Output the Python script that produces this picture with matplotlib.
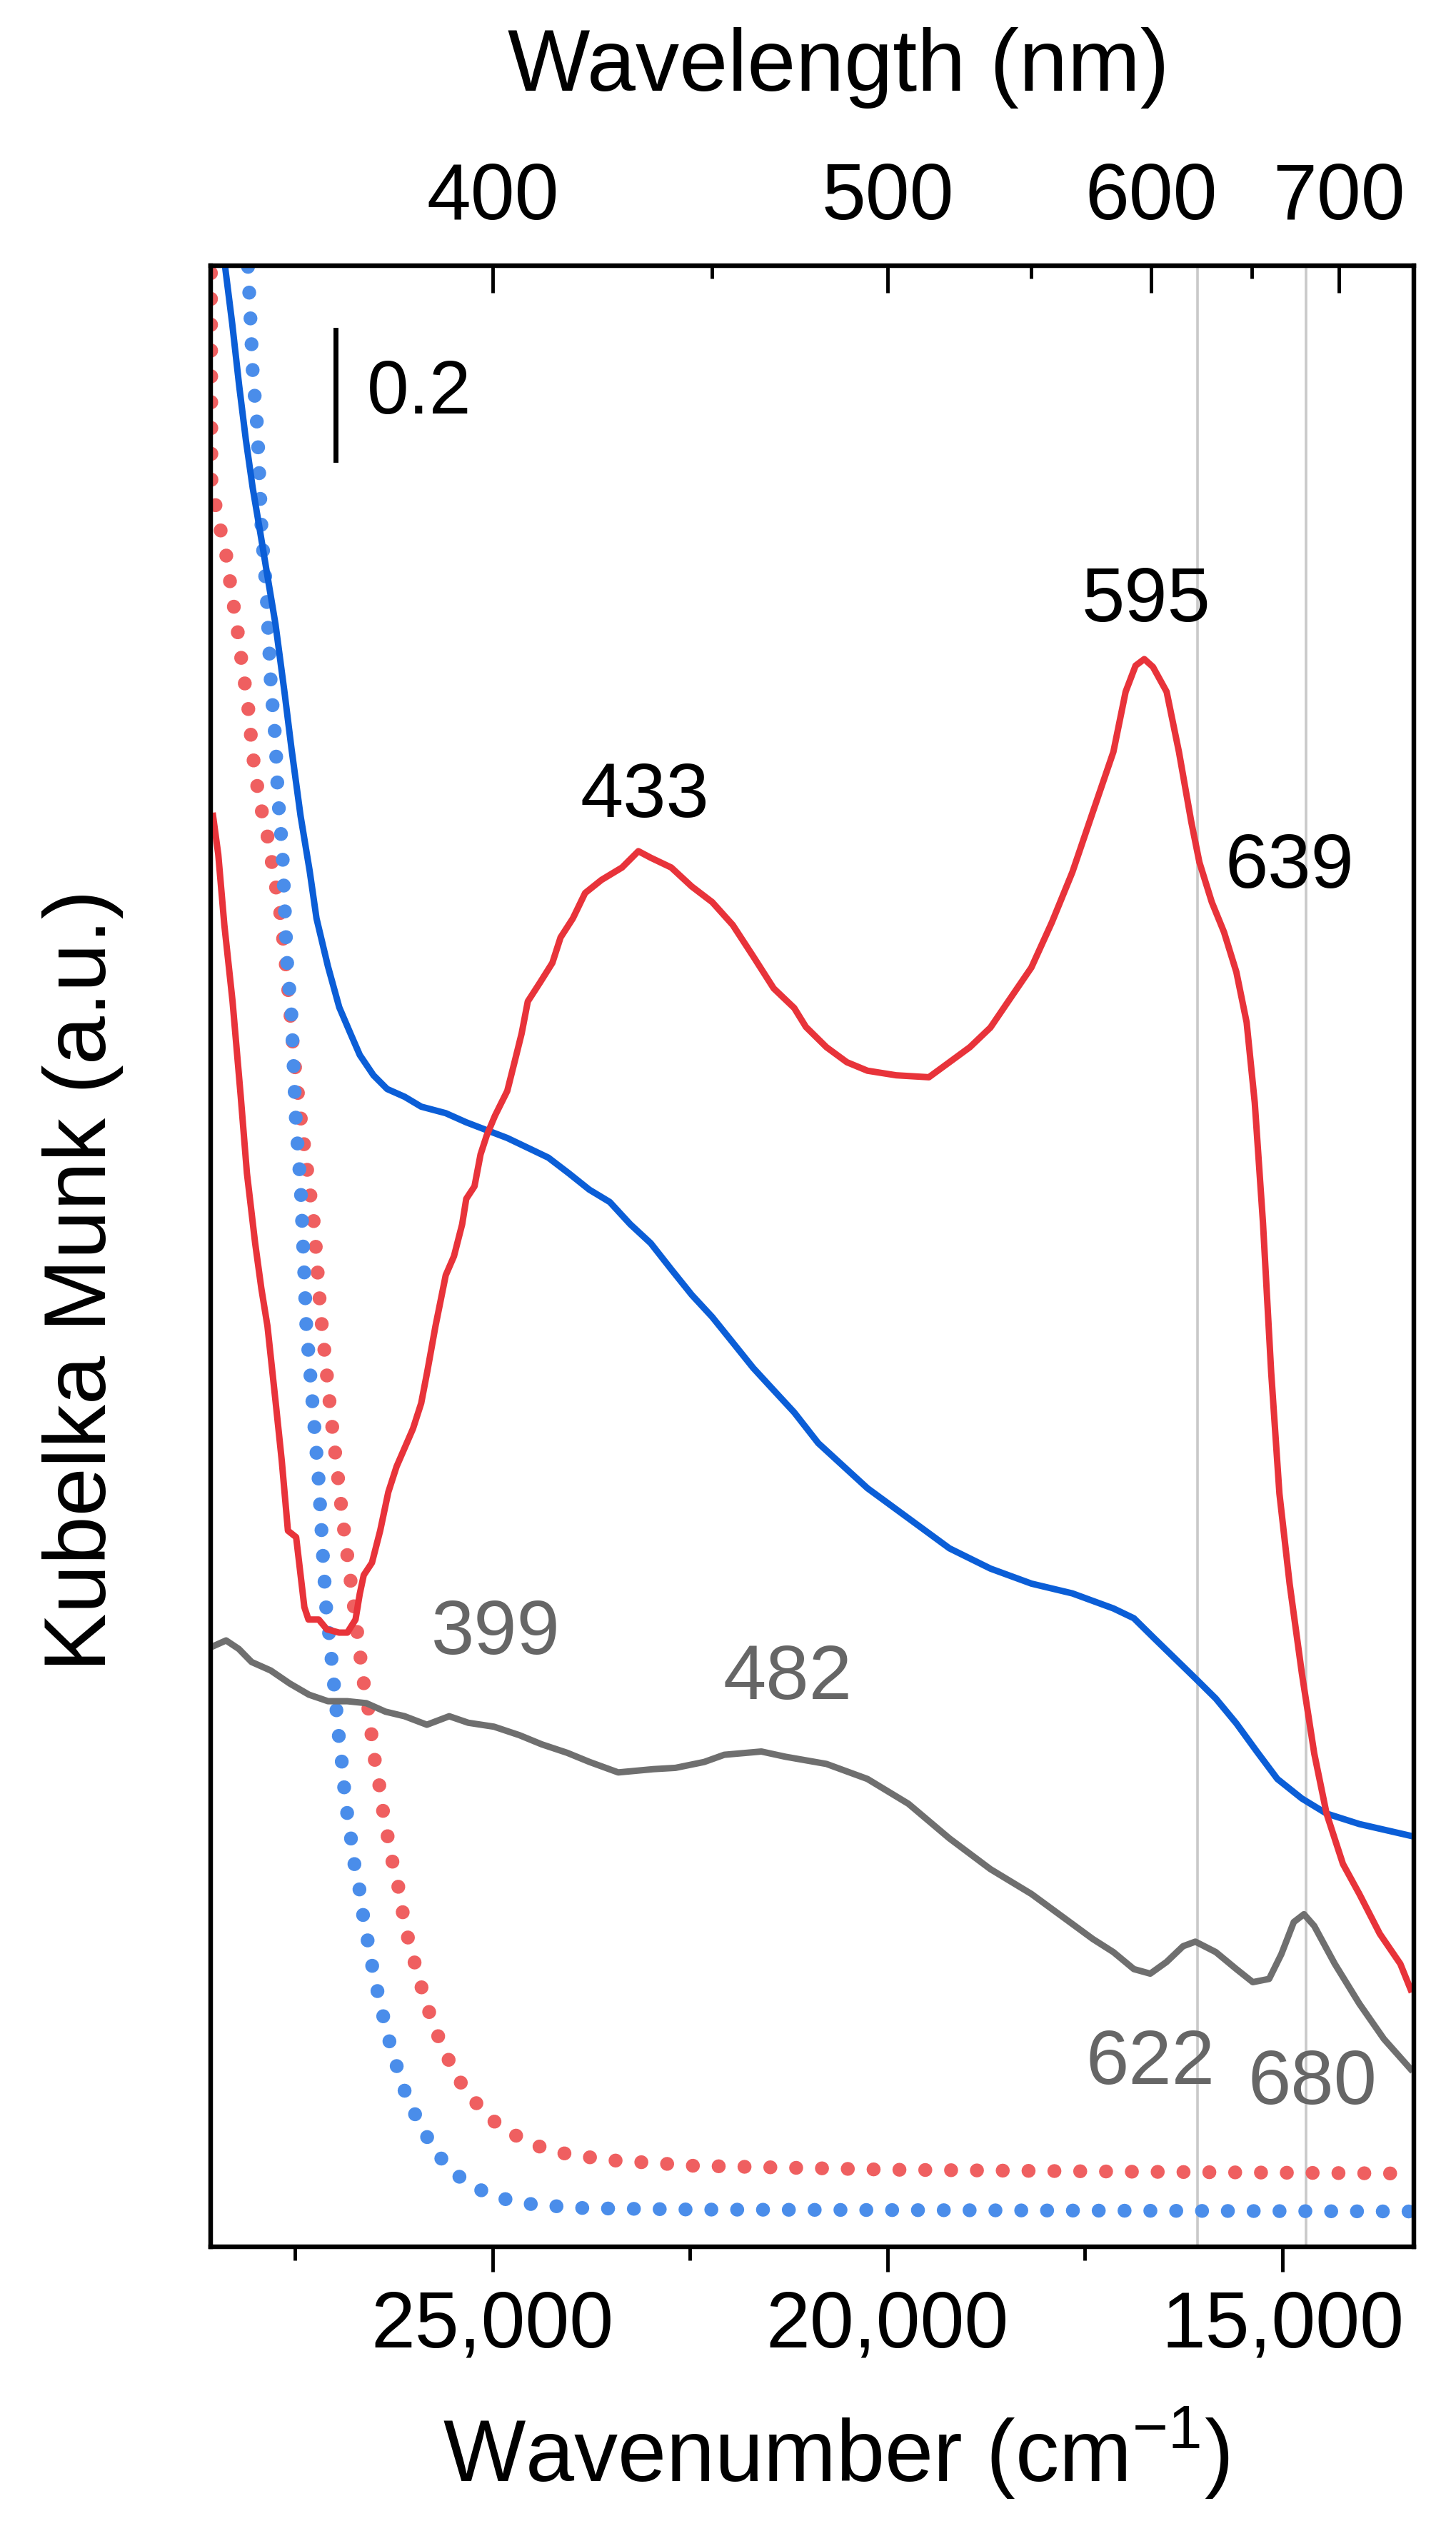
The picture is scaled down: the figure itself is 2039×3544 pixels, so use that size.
import matplotlib
matplotlib.use("Agg")
import matplotlib.pyplot as plt
from matplotlib.ticker import FixedLocator, MultipleLocator, FuncFormatter

plt.rcParams['font.family'] = ['Liberation Sans', 'DejaVu Sans']
plt.rcParams['mathtext.fontset'] = 'custom'
plt.rcParams['mathtext.rm'] = 'Liberation Sans'
plt.rcParams['mathtext.default'] = 'regular'

# ---------------------------------------------------------------
# data (wavenumber in cm-1, Kubelka-Munk a.u.)
# ---------------------------------------------------------------
red_wn = [28540, 28474, 28397, 28293, 28189, 28111, 28007, 27929, 27851, 27747,
          27670, 27592, 27488, 27384, 27332, 27202, 27099, 26943, 26840, 26736,
          26683, 26632, 26528, 26424, 26321, 26217, 26113, 26009, 25905, 25827,
          25724, 25594, 25490, 25386, 25334, 25230, 25153, 25075, 24971, 24815,
          24711, 24633, 24555, 24400, 24244, 24140, 23985, 23829, 23622, 23362,
          23155, 22999, 22739, 22480, 22220, 21960, 21701, 21442, 21182, 21034,
          20774, 20515, 20255, 19892, 19477, 19217, 18958, 18698, 18439, 18179,
          17920, 17660, 17401, 17141, 16986, 16860, 16750, 16640, 16467, 16311,
          16155, 16052, 15895, 15740, 15584, 15454, 15351, 15247, 15143, 15039,
          14910, 14754, 14598, 14442, 14235, 14027, 13768, 13508, 13378]
red_km = [2.190, 2.131, 2.023, 1.906, 1.760, 1.643, 1.536, 1.467, 1.409, 1.292,
          1.203, 1.096, 1.086, 0.979, 0.960, 0.960, 0.945, 0.940, 0.940, 0.960,
          0.999, 1.028, 1.047, 1.096, 1.155, 1.194, 1.223, 1.252, 1.291, 1.340,
          1.409, 1.487, 1.516, 1.565, 1.604, 1.623, 1.672, 1.701, 1.731, 1.769,
          1.819, 1.857, 1.906, 1.935, 1.965, 2.004, 2.033, 2.072, 2.092, 2.111,
          2.136, 2.126, 2.111, 2.082, 2.058, 2.023, 1.975, 1.926, 1.896, 1.867,
          1.836, 1.813, 1.800, 1.793, 1.790, 1.813, 1.836, 1.866, 1.912, 1.958,
          2.027, 2.104, 2.196, 2.288, 2.380, 2.420, 2.430, 2.418, 2.380, 2.288,
          2.181, 2.119, 2.058, 2.012, 1.951, 1.874, 1.751, 1.567, 1.338, 1.153,
          1.015, 0.877, 0.755, 0.663, 0.586, 0.540, 0.479, 0.433, 0.394]

blue_wn = [28420, 28384, 28297, 28210, 28124, 28038, 27951, 27836, 27749, 27634,
           27548, 27432, 27317, 27230, 27086, 26942, 26797, 26682, 26509, 26336,
           26113, 25905, 25594, 25334, 25075, 24815, 24555, 24296, 24036, 23777,
           23517, 23258, 22999, 22739, 22480, 22220, 21960, 21701, 21442, 21182,
           20878, 20255, 19736, 19217, 18698, 18179, 17660, 17141, 16882, 16622,
           16103, 15844, 15584, 15325, 15065, 14754, 14442, 14027, 13378]
blue_km = [3.070, 3.027, 2.943, 2.849, 2.765, 2.692, 2.630, 2.546, 2.483, 2.378,
           2.294, 2.190, 2.106, 2.033, 1.960, 1.897, 1.856, 1.824, 1.793, 1.772,
           1.760, 1.745, 1.735, 1.721, 1.709, 1.697, 1.682, 1.667, 1.643, 1.618,
           1.599, 1.565, 1.536, 1.496, 1.457, 1.423, 1.384, 1.345, 1.311, 1.277,
           1.230, 1.161, 1.115, 1.069, 1.038, 1.015, 1.000, 0.977, 0.962, 0.931,
           0.870, 0.839, 0.801, 0.758, 0.716, 0.686, 0.663, 0.647, 0.629]

gray_wn = [28560, 28375, 28214, 28052, 27810, 27568, 27326, 27084, 26842, 26600,
           26357, 26115, 25833, 25550, 25308, 24983, 24661, 24379, 24056, 23773,
           23410, 22967, 22685, 22322, 22068, 21598, 21293, 20774, 20255, 19736,
           19217, 18698, 18179, 17660, 17401, 17141, 16882, 16674, 16467, 16259,
           16103, 15844, 15584, 15376, 15169, 15014, 14857, 14728, 14598, 14338,
           14027, 13716, 13378]
gray_km = [0.918, 0.928, 0.915, 0.895, 0.882, 0.862, 0.845, 0.835, 0.835, 0.832,
           0.819, 0.812, 0.799, 0.812, 0.802, 0.796, 0.783, 0.769, 0.756, 0.742,
           0.726, 0.731, 0.733, 0.742, 0.753, 0.758, 0.750, 0.739, 0.716, 0.678,
           0.625, 0.578, 0.540, 0.494, 0.471, 0.451, 0.425, 0.418, 0.436, 0.460,
           0.467, 0.451, 0.425, 0.405, 0.410, 0.448, 0.497, 0.509, 0.491, 0.433,
           0.372, 0.318, 0.272]

rdot_wn = [28568, 28560, 28471, 28384, 28297, 28240, 28182, 28096, 28038, 27951,
           27865, 27778, 27692, 27634, 27576, 27519, 27432, 27346, 27259, 27177,
           27047, 26891, 26680, 26640, 26579, 26539, 26498, 26438, 26397, 26337,
           26276, 26203, 26147, 26083, 26002, 25913, 25812, 25703, 25570, 25408,
           25195, 24964, 24702, 24399, 24096, 23773, 23450, 22805, 22461, 20000,
           17000, 13336]
rdot_km = [3.100, 2.700, 2.640, 2.598, 2.525, 2.483, 2.430, 2.357, 2.284, 2.211,
           2.169, 2.106, 2.044, 1.981, 1.908, 1.824, 1.730, 1.646, 1.563, 1.428,
           1.272, 1.106, 0.908, 0.868, 0.829, 0.789, 0.749, 0.709, 0.673, 0.633,
           0.593, 0.557, 0.517, 0.478, 0.441, 0.402, 0.362, 0.326, 0.289, 0.252,
           0.218, 0.190, 0.170, 0.153, 0.143, 0.137, 0.132, 0.127, 0.124, 0.118,
           0.115, 0.112]

bdot_wn = [28110, 28096, 28067, 28038, 27980, 27951, 27922, 27865, 27836, 27807,
           27749, 27720, 27663, 27634, 27605, 27548, 27519, 27490, 27432, 27384,
           27359, 27306, 27255, 27203, 27150, 27104, 27063, 27035, 27003, 26971,
           26942, 26902, 26874, 26833, 26781, 26741, 26672, 26632, 26567, 26511,
           26438, 26365, 26285, 26188, 26083, 25933, 25772, 25570, 25328, 25073,
           24763, 24440, 23816, 22483, 13336]
bdot_km = [3.070, 3.027, 2.953, 2.870, 2.785, 2.702, 2.619, 2.535, 2.462, 2.389,
           2.305, 2.222, 2.138, 2.054, 1.970, 1.887, 1.803, 1.720, 1.625, 1.486,
           1.409, 1.331, 1.252, 1.174, 1.060, 0.971, 0.931, 0.893, 0.853, 0.813,
           0.774, 0.734, 0.694, 0.655, 0.615, 0.577, 0.539, 0.499, 0.459, 0.420,
           0.380, 0.342, 0.304, 0.266, 0.227, 0.191, 0.155, 0.122, 0.098, 0.082,
           0.070, 0.064, 0.059, 0.057, 0.054]

# peak labels (text, wavenumber, height, colour)
peak_labels = [('433', 23077, 2.219, 'k'), ('595', 16727, 2.518, 'k'),
               ('639', 14910, 2.111, 'k'), ('399', 24964, 0.938, 'g'),
               ('482', 21266, 0.869, 'g'), ('622', 16673, 0.280, 'g'),
               ('680', 14624, 0.249, 'g')]
marker_nm = [622, 680]
wl_major = [400, 500, 600, 700]
wl_minor = [450, 550, 650]

RED = '#e8333a'
RED_DOT = '#ef5f60'
BLUE = '#0b5ed7'
BLUE_DOT = '#4a8dea'
GRAY = '#6f6f6f'
GRAY_TXT = '#666666'

fig = plt.figure(figsize=(20.39, 35.44), dpi=100)
ax = fig.add_axes([0.1447, 0.1123, 0.8264, 0.7827])
ax.set_xlim(28570, 13336)
ax.set_ylim(0, 3.032)

for nm in marker_nm:
    ax.axvline(1e7 / nm, color='#c9c9c9', lw=2.6, zorder=1)

dot_style = (0, (0.01, 1.85))
ax.plot(rdot_wn, rdot_km, color=RED_DOT, lw=14, ls=dot_style,
        dash_capstyle='round', zorder=2)
ax.plot(bdot_wn, bdot_km, color=BLUE_DOT, lw=14, ls=dot_style,
        dash_capstyle='round', zorder=2)
ax.plot(gray_wn, gray_km, color=GRAY, lw=6.5, zorder=3)
ax.plot(blue_wn, blue_km, color=BLUE, lw=6.5, zorder=4)
ax.plot(red_wn, red_km, color=RED, lw=6.5, zorder=5)

# scale bar
ax.plot([26990, 26990], [2.735, 2.934], color='k', lw=5)
ax.text(26592, 2.836, '0.2', fontsize=76, ha='left', va='center')

for txt, wn, km, c in peak_labels:
    ax.text(wn, km, txt, fontsize=78, ha='center', va='center',
            color='k' if c == 'k' else GRAY_TXT)

for s in ax.spines.values():
    s.set_linewidth(4.5)

ax.set_yticks([])
ax.xaxis.set_major_locator(FixedLocator([25000, 20000, 15000]))
ax.xaxis.set_minor_locator(MultipleLocator(2500))
ax.xaxis.set_major_formatter(FuncFormatter(lambda v, p: f'{int(v):,}'))
ax.tick_params(axis='x', which='major', direction='out', length=25, width=3.5,
               labelsize=80, pad=18)
ax.tick_params(axis='x', which='minor', direction='out', length=14, width=3.5)

ax.set_xlabel('Wavenumber (cm$^{-1}$)', fontsize=88)
ax.xaxis.label.set_va('center')
ax.xaxis.set_label_coords(0.52, -0.104)
ax.set_ylabel('Kubelka Munk (a.u.)', fontsize=88)
ax.yaxis.label.set_va('center')
ax.yaxis.set_label_coords(-0.106, 0.488)

# top wavelength axis
top = ax.twiny()
top.set_xlim(ax.get_xlim())
top.set_xticks([1e7 / w for w in wl_major])
top.set_xticklabels([str(w) for w in wl_major])
top.set_xticks([1e7 / w for w in wl_minor], minor=True)
top.tick_params(axis='x', which='major', direction='in', length=27, width=3.5,
                labelsize=80, pad=30)
top.tick_params(axis='x', which='minor', direction='in', length=13, width=3.5)
top.set_xlabel('Wavelength (nm)', fontsize=88)
top.xaxis.label.set_va('center')
top.xaxis.set_label_coords(0.522, 1.100)
for s in top.spines.values():
    s.set_linewidth(4.5)

fig.savefig('out.png', dpi=100)
